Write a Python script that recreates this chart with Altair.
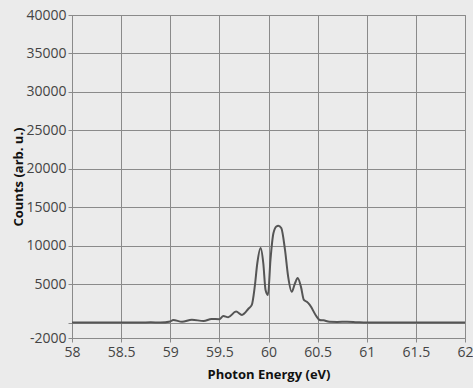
import altair as alt
import pandas as pd

# Photon energy (eV) and measured counts of the spectrum
energy = [58.0, 58.7, 58.8, 58.9, 59.0, 59.03, 59.12, 59.22, 59.34, 59.42, 59.5,
          59.54, 59.59, 59.67, 59.73, 59.8, 59.83, 59.86, 59.886, 59.92, 59.947,
          59.97, 59.995, 60.02, 60.05, 60.08, 60.1, 60.13, 60.168, 60.2, 60.236,
          60.27, 60.297, 60.33, 60.36, 60.39, 60.42, 60.49, 60.52, 60.56, 60.62,
          60.7, 60.8, 60.9, 61.0, 62.0]
counts = [0, 0, 50, 0, 150, 350, 100, 380, 200, 480, 450,
          870, 700, 1430, 1000, 1870, 2300, 4680, 7720, 9700, 7720,
          4250, 3600, 8150, 11620, 12500, 12600, 12300, 9450, 5980, 4000,
          5120, 5800, 4680, 2950, 2700, 2300, 780, 350, 300, 100,
          80, 120, 50, 0, 0]

x_ticks = [58, 58.5, 59, 59.5, 60, 60.5, 61, 61.5, 62]
y_ticks = [-2000, 0, 5000, 10000, 15000, 20000, 25000, 30000, 35000, 40000]

df = pd.DataFrame({"energy": energy, "counts": counts})

font = "Open Sans"
bg = "#ebebeb"

chart = (
    alt.Chart(df)
    .mark_line(color="#555555", strokeWidth=2, interpolate="monotone")
    .encode(
        x=alt.X(
            "energy:Q",
            scale=alt.Scale(domain=[58, 62], nice=False, zero=False),
            axis=alt.Axis(
                values=x_ticks,
                title="Photon Energy (eV)",
                labelExpr="datum.value",
                labelFlush=False,
                labelPadding=3,
                titlePadding=9,
            ),
        ),
        y=alt.Y(
            "counts:Q",
            scale=alt.Scale(domain=[-2000, 40000], nice=False, zero=False),
            axis=alt.Axis(
                values=y_ticks,
                title="Counts (arb. u.)",
                labelExpr="datum.value == 0 ? '' : datum.value",
                labelFlush=False,
                labelPadding=2,
                titleX=-47,
            ),
        ),
    )
    .properties(
        width=393,
        height=323,
        background=bg,
        padding={"left": 72, "top": 15, "right": 8, "bottom": 50},
        autosize=alt.AutoSizeParams(type="none"),
    )
    .configure_view(fill=bg, stroke="#8a8a8a", strokeWidth=1)
    .configure_axis(
        grid=True,
        gridColor="#8a8a8a",
        gridOpacity=1,
        gridWidth=1,
        domainColor="#8a8a8a",
        tickColor="#8a8a8a",
        tickSize=4,
        labelFont=font,
        labelFontSize=14,
        labelColor="#444444",
        titleFont=font,
        titleFontSize=13,
        titleFontWeight="bold",
        titleColor="#111111",
    )
)

chart.save("out.html", embed_options={"renderer": "svg", "actions": False})
